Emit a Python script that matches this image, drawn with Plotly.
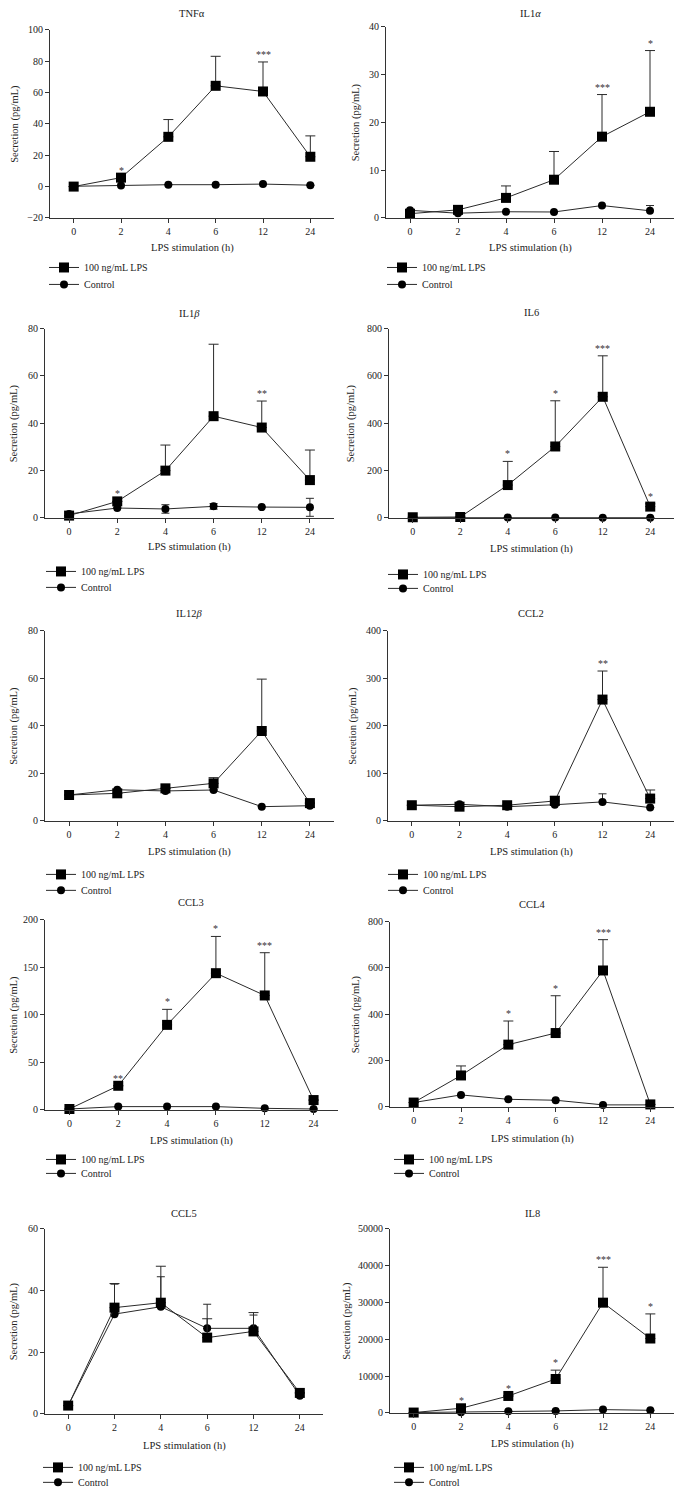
import plotly.graph_objects as go

hours = ["0", "2", "4", "6", "12", "24"]

# TNFα
tnfa_lps = [0.0, 5.7, 31.7, 64.2, 60.6, 19.0]
tnfa_lps_err = [0, 0, 11.0, 18.8, 18.8, 13.3]
tnfa_ctrl = [0.2, 0.7, 1.2, 1.2, 1.6, 0.9]
tnfa_ctrl_err = [0, 0, 0, 0, 0, 0]
tnfa_stars = ["", "*", "", "", "***", ""]

# IL1α
il1a_lps = [0.9, 1.7, 4.2, 8.0, 17.0, 22.2]
il1a_lps_err = [0, 0, 2.5, 5.9, 8.8, 12.8]
il1a_ctrl = [1.6, 1.0, 1.3, 1.25, 2.6, 1.5]
il1a_ctrl_err = [0, 0, 0, 0, 0, 1.1]
il1a_stars = ["", "", "", "", "***", "*"]

# IL1β
il1b_lps = [1.0, 7.0, 20.0, 43.0, 38.2, 16.0]
il1b_lps_err = [0, 0, 10.8, 30.4, 11.2, 12.7]
il1b_ctrl = [1.7, 4.2, 3.8, 4.9, 4.6, 4.5]
il1b_ctrl_err = [0, 0, 1.8, 1.2, 0, 3.8]
il1b_stars = ["", "*", "", "", "**", ""]

# IL6
il6_lps = [3, 4, 139, 302, 512, 48]
il6_lps_err = [0, 0, 100, 193, 173, 12]
il6_ctrl = [1, 1, 2, 2, 1, 1]
il6_ctrl_err = [0, 0, 0, 0, 0, 0]
il6_stars = ["", "", "*", "*", "***", "*"]

# IL12β
il12b_lps = [10.9, 11.6, 13.7, 15.8, 37.8, 7.5]
il12b_lps_err = [0, 0, 0, 2.4, 21.8, 0]
il12b_ctrl = [10.9, 13.1, 12.6, 13.0, 6.0, 6.4]
il12b_ctrl_err = [0, 0, 0, 0, 0, 0]
il12b_stars = ["", "", "", "", "", ""]

# CCL2
ccl2_lps = [33, 30, 33, 42, 255, 47]
ccl2_lps_err = [0, 0, 0, 10, 60, 18]
ccl2_ctrl = [33, 35, 30, 34, 40, 28]
ccl2_ctrl_err = [0, 0, 0, 0, 17, 0]
ccl2_stars = ["", "", "", "", "**", ""]

# CCL3
ccl3_lps = [1, 25.4, 89.4, 143.7, 120.3, 10.4]
ccl3_lps_err = [0, 0, 16.3, 38.6, 44.9, 0]
ccl3_ctrl = [1, 3.5, 3.5, 3.5, 1.7, 1]
ccl3_ctrl_err = [0, 0, 0, 0, 0, 0]
ccl3_stars = ["", "**", "*", "*", "***", ""]

# CCL4
ccl4_lps = [19, 136, 269, 319, 589, 11]
ccl4_lps_err = [0, 41, 102, 161, 133, 0]
ccl4_ctrl = [19, 52, 33, 29, 9, 9]
ccl4_ctrl_err = [0, 0, 0, 0, 0, 0]
ccl4_stars = ["", "", "*", "*", "***", ""]

# CCL5
ccl5_lps = [2.7, 34.4, 36.0, 24.7, 26.7, 6.8]
ccl5_lps_err = [0, 7.8, 11.8, 6.1, 6.1, 0]
ccl5_ctrl = [2.7, 32.3, 34.7, 27.7, 27.7, 5.9]
ccl5_ctrl_err = [0, 9.7, 9.7, 7.8, 4.3, 0]
ccl5_stars = ["", "", "", "", "", ""]

# IL8
il8_lps = [100, 1260, 4600, 9200, 29900, 20180]
il8_lps_err = [0, 0, 0, 2400, 9600, 6670]
il8_ctrl = [100, 180, 450, 540, 900, 720]
il8_ctrl_err = [0, 0, 0, 0, 0, 0]
il8_stars = ["", "*", "*", "*", "***", "*"]

titles = ["TNFα", "IL1<i>α</i>", "IL1<i>β</i>", "IL6", "IL12<i>β</i>",
          "CCL2", "CCL3", "CCL4", "CCL5", "IL8"]
y_ranges = [[-20, 100], [0, 40], [0, 80], [0, 800], [0, 80],
            [0, 400], [0, 200], [0, 800], [0, 60], [0, 50000]]
y_dticks = [20, 10, 20, 200, 20, 100, 50, 200, 20, 10000]
ctrl_symmetric = [False, False, True, False, False, False, False, False, False, False]

panels = [
    (tnfa_lps, tnfa_lps_err, tnfa_ctrl, tnfa_ctrl_err, tnfa_stars),
    (il1a_lps, il1a_lps_err, il1a_ctrl, il1a_ctrl_err, il1a_stars),
    (il1b_lps, il1b_lps_err, il1b_ctrl, il1b_ctrl_err, il1b_stars),
    (il6_lps, il6_lps_err, il6_ctrl, il6_ctrl_err, il6_stars),
    (il12b_lps, il12b_lps_err, il12b_ctrl, il12b_ctrl_err, il12b_stars),
    (ccl2_lps, ccl2_lps_err, ccl2_ctrl, ccl2_ctrl_err, ccl2_stars),
    (ccl3_lps, ccl3_lps_err, ccl3_ctrl, ccl3_ctrl_err, ccl3_stars),
    (ccl4_lps, ccl4_lps_err, ccl4_ctrl, ccl4_ctrl_err, ccl4_stars),
    (ccl5_lps, ccl5_lps_err, ccl5_ctrl, ccl5_ctrl_err, ccl5_stars),
    (il8_lps, il8_lps_err, il8_ctrl, il8_ctrl_err, il8_stars),
]

# layout geometry in pixels: (x0, x1, ytop, ybottom)
W, H = 682, 1497
boxes = [
    (50, 334, 29, 218), (386, 674, 26, 218),
    (45, 334, 329, 519), (389, 674, 329, 519),
    (45, 334, 632, 823), (388, 674, 632, 823),
    (45, 338, 922, 1113), (390, 674, 924, 1110),
    (45, 323, 1232, 1418), (390, 674, 1232, 1417),
]
title_y = [13, 13, 314, 313, 615, 615, 905, 907, 1217, 1217]
xtitle_y = [248, 248, 548, 550, 854, 854, 1144, 1142, 1450, 1448]
ytitle_x = [15, 356, 14, 351, 14, 353, 14, 356, 14, 347]
# legend: (left x, row1 centre y, row2 centre y)
legend_pos = [(44, 268, 285), (382, 268, 285), (41, 573, 589), (383, 576, 590),
              (41, 877, 893), (383, 877, 893), (41, 1163, 1177), (389, 1163, 1177),
              (38, 1472, 1487), (389, 1472, 1487)]
LEG_OFF = 15
# vertical calibration of the rendered page (offset, scale)
Y_OFF, Y_SCALE = 5.3, 0.992

FONT = "Liberation Serif"
LINE_C = "#2a2a2a"

fig = go.Figure()
annotations = []
layout = dict(
    width=W, height=H, margin=dict(l=0, r=0, t=0, b=0),
    paper_bgcolor="white", plot_bgcolor="white", showlegend=True,
    font=dict(family=FONT, size=10, color="#222"),
)


def px(x):
    return x / W


def sy(y):
    return (y - Y_OFF) / Y_SCALE


def py(y):
    return 1 - sy(y) / H


def legend_box(x, yc):
    return dict(x=px(x), y=1 - (sy(yc) - LEG_OFF) / H, xanchor="left", yanchor="top",
                bgcolor="rgba(0,0,0,0)", itemclick=False, itemdoubleclick=False,
                font=dict(family=FONT, size=10, color="#222"))


for i, (lps, lps_err, ctrl, ctrl_err, stars) in enumerate(panels):
    k = i + 1
    xa = "x" if k == 1 else f"x{k}"
    ya = "y" if k == 1 else f"y{k}"
    lg_a = "legend" if k == 1 else f"legend{2 * k - 1}"
    lg_b = f"legend{2 * k}"
    x0, x1, yt, yb = boxes[i]

    fig.add_trace(go.Scatter(
        x=hours, y=ctrl, mode="lines+markers", name="Control",
        xaxis=xa, yaxis=ya, legend=lg_b, cliponaxis=False, showlegend=True,
        line=dict(color=LINE_C, width=1),
        marker=dict(symbol="circle", size=8, color="black"),
        error_y=dict(type="data", array=ctrl_err,
                     arrayminus=ctrl_err if ctrl_symmetric[i] else [0] * 6,
                     symmetric=False, color=LINE_C, thickness=1, width=4),
    ))
    fig.add_trace(go.Scatter(
        x=hours, y=lps, mode="lines+markers", name="100 ng/mL LPS",
        xaxis=xa, yaxis=ya, legend=lg_a, cliponaxis=False, showlegend=True,
        line=dict(color=LINE_C, width=1),
        marker=dict(symbol="square", size=10, color="black"),
        error_y=dict(type="data", array=lps_err, arrayminus=[0] * 6,
                     symmetric=False, color=LINE_C, thickness=1, width=5),
    ))

    axis_common = dict(showline=True, linecolor="#333", linewidth=1,
                       ticks="outside", ticklen=4, tickcolor="#333",
                       showgrid=False, zeroline=False,
                       tickfont=dict(family=FONT, size=10, color="#222"))
    layout["xaxis" if k == 1 else f"xaxis{k}"] = dict(
        domain=[px(x0), px(x1)], anchor=ya, type="category",
        range=[-0.5, 5.5], **axis_common)
    layout["yaxis" if k == 1 else f"yaxis{k}"] = dict(
        domain=[py(yb), py(yt)], anchor=xa, range=y_ranges[i],
        dtick=y_dticks[i], tick0=0, tickformat="d", **axis_common)

    lx, r1, r2 = legend_pos[i]
    layout[lg_a] = legend_box(lx, r1)
    layout[lg_b] = legend_box(lx, r2)

    cx = (x0 + x1) / 2
    annotations.append(dict(text=titles[i], x=px(cx), y=py(title_y[i]),
                            xref="paper", yref="paper", showarrow=False,
                            xanchor="center", yanchor="middle",
                            font=dict(family=FONT, size=10.5, color="#222")))
    annotations.append(dict(text="LPS stimulation (h)", x=px(cx),
                            y=py(xtitle_y[i]), xref="paper", yref="paper",
                            showarrow=False, xanchor="center", yanchor="middle",
                            font=dict(family=FONT, size=10.5, color="#222")))
    annotations.append(dict(text="Secretion (pg/mL)", x=px(ytitle_x[i]),
                            y=py((yt + yb) / 2), xref="paper", yref="paper",
                            showarrow=False, textangle=-90,
                            xanchor="center", yanchor="middle",
                            font=dict(family=FONT, size=10.5, color="#222")))
    for j, s in enumerate(stars):
        if s:
            annotations.append(dict(text=s, x=j, y=lps[j] + lps_err[j],
                                    xref=xa, yref=ya, showarrow=False,
                                    xanchor="center", yanchor="bottom", yshift=0,
                                    font=dict(family=FONT, size=10, color="#333")))

layout["annotations"] = annotations
fig.update_layout(**layout)
fig.write_html("out.html", config={"displayModeBar": False},
               post_script="document.body.style.margin='0px';")
